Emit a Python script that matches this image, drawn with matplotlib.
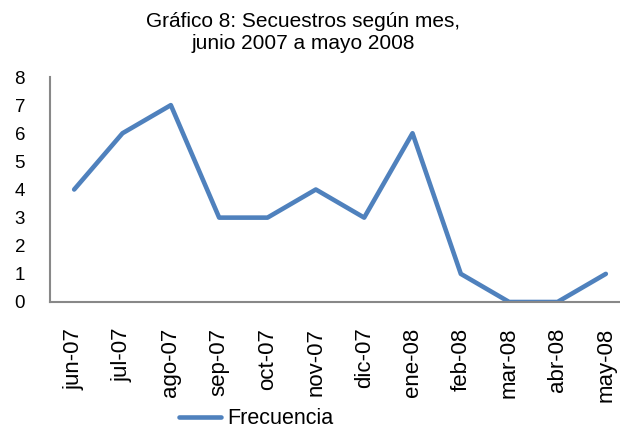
import matplotlib
matplotlib.use("Agg")
import matplotlib.pyplot as plt

plt.rcParams['font.family'] = ['Liberation Sans', 'DejaVu Sans']

meses = ['jun-07', 'jul-07', 'ago-07', 'sep-07', 'oct-07', 'nov-07',
         'dic-07', 'ene-08', 'feb-08', 'mar-08', 'abr-08', 'may-08']
frecuencia = [4, 6, 7, 3, 3, 4, 3, 6, 1, 0, 0, 1]

fig = plt.figure(figsize=(6.2, 4.32), dpi=100)
ax = fig.add_axes([50/620, 1-302/432, 580/620, 225/432])

x = list(range(len(meses)))
ax.plot(x, frecuencia, color='#4F81BD', lw=3.3, solid_capstyle='round',
        solid_joinstyle='round', label='Frecuencia')

ax.set_xlim(-0.5, len(meses) - 0.5)
ax.set_ylim(0, 8)
ax.set_yticks(range(0, 9))
ax.set_xticks(x)
ax.set_xticklabels(meses, rotation=90, fontsize=16)
ax.tick_params(axis='y', length=0, pad=18, labelsize=13.5)
ax.tick_params(axis='x', length=0, pad=18.5)

for s in ['top', 'right']:
    ax.spines[s].set_visible(False)
for s in ['left', 'bottom']:
    ax.spines[s].set_color('#888888')
    ax.spines[s].set_linewidth(1.5)

fig.text(0.489, 1 - 12/432, 'Gráfico 8: Secuestros según mes,\njunio 2007 a mayo 2008',
         ha='center', va='top', fontsize=15, linespacing=1.2)

fig.legend(loc='center', bbox_to_anchor=(0.413, 1 - 419/432), frameon=False,
           fontsize=15.5, handlelength=1.95, handletextpad=0.28,
           borderpad=0, borderaxespad=0)

fig.savefig('out.png', dpi=100)
